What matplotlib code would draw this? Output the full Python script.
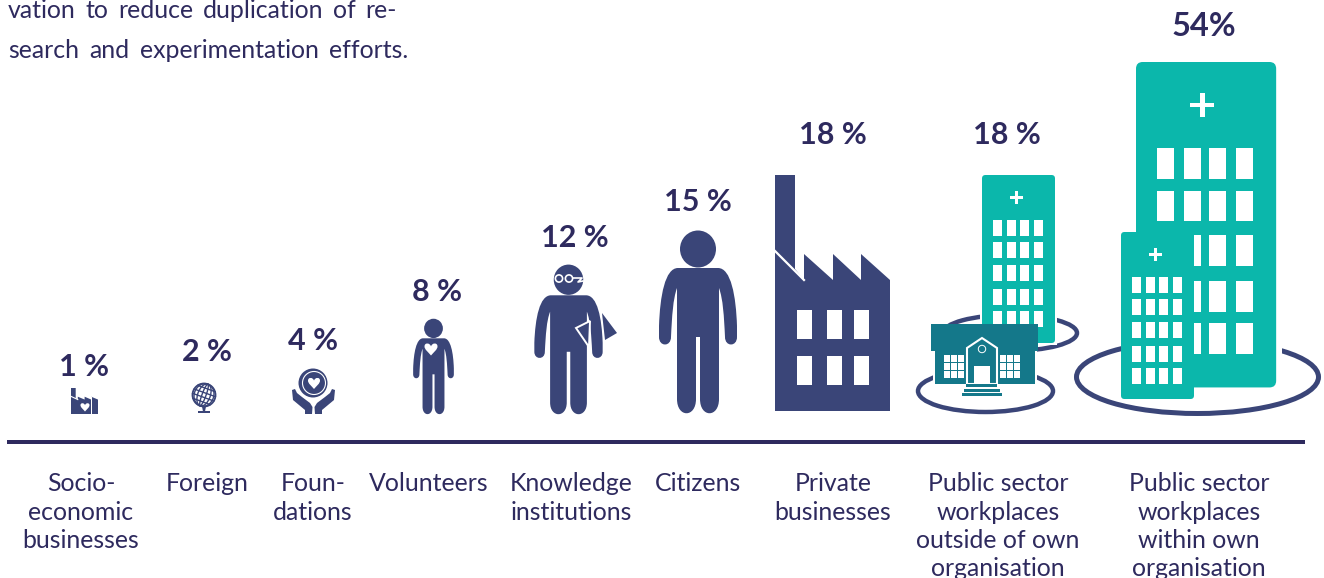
import numpy as np
import matplotlib
matplotlib.use("Agg")
import matplotlib.pyplot as plt
from matplotlib.path import Path
from matplotlib.patches import Circle, Ellipse, FancyBboxPatch, PathPatch, Polygon, Rectangle

categories = [
    ["Socio-", "economic", "businesses"],
    ["Foreign"],
    ["Foun-", "dations"],
    ["Volunteers"],
    ["Knowledge", "institutions"],
    ["Citizens"],
    ["Private", "businesses"],
    ["Public sector", "workplaces", "outside of own", "organisation"],
    ["Public sector", "workplaces", "within own", "organisation"],
]
values = [1, 2, 4, 8, 12, 15, 18, 18, 54]
value_units = [" %", " %", " %", " %", " %", " %", " %", " %", "%"]
intro_lines = ["vation to reduce duplication of re-", "search and experimentation efforts."]

NAVY = "#3A4578"
INK = "#2E2A5E"
TEAL = "#0BB7AB"
DARK_TEAL = "#14788A"

plt.rcParams["font.family"] = ["Lato", "DejaVu Sans"]

fig = plt.figure(figsize=(13.24, 5.78), dpi=100)
ax = fig.add_axes([0, 0, 1, 1])
ax.set_xlim(0, 1324)
ax.set_ylim(578, 0)
ax.axis("off")


def rect(x0, y0, x1, y1, color="white", z=3):
    ax.add_patch(Rectangle((x0, y0), x1 - x0, y1 - y0, fc=color, ec="none", zorder=z))


def heart(cx, cy, size, z=4):
    verts = np.array([
        (0, 0.5), (-0.2, 0.25), (-0.5, 0.05), (-0.5, -0.2),
        (-0.5, -0.5), (-0.1, -0.5), (0, -0.2),
        (0.1, -0.5), (0.5, -0.5), (0.5, -0.2),
        (0.5, 0.05), (0.2, 0.25), (0, 0.5),
    ]) * size + (cx, cy)
    codes = [Path.MOVETO] + [Path.CURVE4] * 12
    ax.add_patch(PathPatch(Path(verts, codes), fc="white", ec="none", zorder=z))


def person(cx, top, bottom, xscale=1.0, color=NAVY):
    # figure drawn at the citizen's size (182 px tall), then scaled
    s = (bottom - top) / 182
    ax.add_patch(Ellipse((cx, top + 18 * s), 36 * s, 37 * s, fc=color, ec="none", zorder=2))
    half = Path(
        [(0, 37), (20, 37), (33, 37), (38, 65), (39, 95), (39, 106), (39, 116), (27, 116),
         (27, 106), (26, 85), (25, 68), (21, 57), (21, 168), (21, 187), (2, 187), (2, 168),
         (2, 106), (0, 106)],
        [Path.MOVETO, Path.LINETO, Path.CURVE4, Path.CURVE4, Path.CURVE4, Path.LINETO,
         Path.CURVE4, Path.CURVE4, Path.CURVE4, Path.CURVE4, Path.CURVE4, Path.CURVE4,
         Path.LINETO, Path.CURVE4, Path.CURVE4, Path.CURVE4, Path.LINETO, Path.LINETO],
    ).to_polygons(closed_only=False)[0]
    other = half[::-1] * (-1, 1)
    pts = np.vstack([half, other]) * (s * xscale, s) + (cx, top)
    ax.add_patch(Polygon(pts, closed=True, fc=color, ec="none", zorder=2))


def factory(x0, y0, x1, y1, windows=True):
    sx = (x1 - x0) / 115
    sy = (y1 - y0) / 236
    pts = np.array([(0, 0), (20, 0), (20, 94), (29, 105), (29, 79), (58, 105), (58, 79),
                    (86, 105), (86, 79), (115, 105), (115, 236), (0, 236)], dtype=float)
    ax.add_patch(Polygon(pts * (sx, sy) + (x0, y0), closed=True, fc=NAVY, ec="none", zorder=2))
    ax.plot([x0, x0 + 29 * sx], [y0 + 76 * sy, y0 + 105 * sy], color="white",
            lw=1.6 * max(sx, 0.5), zorder=3)
    if windows:
        for wx in (22, 52, 79):
            for wy in (135, 181):
                rect(x0 + wx * sx, y0 + wy * sy, x0 + (wx + 15) * sx, y0 + (wy + 29) * sy)


def hospital(x0, y0, s, z=2, height=168):
    # base size 73 x 168 px
    w, h = 73 * s, height * s
    r = 3.5 * s
    ax.add_patch(FancyBboxPatch((x0 + r, y0 + r), w - 2 * r, h - 2 * r,
                                boxstyle=f"round,pad={r},rounding_size={r}",
                                fc=TEAL, ec="none", zorder=z))
    cx, cy = x0 + 34.5 * s, y0 + 22.3 * s
    rect(cx - 6.2 * s, cy - 1.2 * s, cx + 6.2 * s, cy + 1.2 * s, z=z + 1)
    rect(cx - 1.2 * s, cy - 6.2 * s, cx + 1.2 * s, cy + 6.2 * s, z=z + 1)
    for wx in (11, 25, 38, 52):
        for wy in (45, 67, 90, 114, 136):
            rect(x0 + wx * s, y0 + wy * s, x0 + (wx + 9) * s, y0 + (wy + 16) * s, z=z + 1)


def globe(cx, cy, r):
    ax.add_patch(Circle((cx, cy), r, fc="white", ec=NAVY, lw=1.3, zorder=2))
    for w in (0.35, 1.1, 1.7):
        ax.add_patch(Ellipse((cx, cy), r * w, 2 * r, angle=20, fc="none", ec=NAVY, lw=1.0, zorder=3))
    for dy in (-0.6, -0.2, 0.2, 0.6):
        a = np.radians(20)
        half = r * np.sqrt(1 - dy ** 2)
        mx, my = cx - dy * r * np.sin(a), cy + dy * r * np.cos(a)
        ax.plot([mx - half * np.cos(a), mx + half * np.cos(a)],
                [my - half * np.sin(a), my + half * np.sin(a)], color=NAVY, lw=1.0, zorder=3)
    ax.add_patch(Polygon([(cx - 2, cy + r), (cx + 2, cy + r), (cx + 1, cy + r + 5), (cx - 1, cy + r + 5)],
                         fc=NAVY, ec="none", zorder=2))
    rect(cx - 6, cy + r + 4.5, cx + 6, cy + r + 6, color=NAVY)


def hands_and_coin(cx, cy):
    ax.add_patch(Circle((cx, cy), 14.5, fc=NAVY, ec="none", zorder=2))
    ax.add_patch(Circle((cx + 1, cy), 11.5, fc="none", ec="white", lw=0.8, zorder=3))
    heart(cx + 1, cy, 12)
    hand = np.array([(-21, 7), (-20, 17), (-8, 27), (-8, 31), (-1, 31), (-0.5, 24),
                     (-3, 20), (-11, 14), (-16, 10), (-18, 6)], dtype=float)
    ax.add_patch(Polygon(hand + (cx, cy), fc=NAVY, ec="none", zorder=2))
    ax.add_patch(Polygon(hand * (-1, 1) + (cx + 1, cy), fc=NAVY, ec="none", zorder=2))


def school():
    rect(931, 324, 1038, 351, DARK_TEAL, z=4)
    rect(935, 351, 1035, 384, DARK_TEAL, z=4)
    for x0 in (944, 1000):
        rect(x0, 355, x0 + 20, 378, "white", z=5)
        for dx in (6, 13):
            rect(x0 + dx, 355, x0 + dx + 1, 378, DARK_TEAL, z=6)
        for dy in (7, 15):
            rect(x0, 355 + dy, x0 + 20, 355 + dy + 1, DARK_TEAL, z=6)
    ax.add_patch(Polygon([(967, 384), (967, 348), (982, 338), (997, 348), (997, 384)],
                         fc=DARK_TEAL, ec="white", lw=1.5, zorder=5))
    rect(974, 366, 990, 384, "white", z=6)
    ax.add_patch(Circle((982, 349), 3.7, fc=DARK_TEAL, ec="white", lw=0.7, zorder=6))
    rect(966, 384, 997, 387, DARK_TEAL, z=7)
    rect(964, 389, 1000, 392, DARK_TEAL, z=7)
    rect(962, 393, 1002, 396, DARK_TEAL, z=7)


def justified(line, x0, x1, baseline, size, weight):
    words = line.split()
    items = [ax.text(0, baseline, w, fontsize=size, color=INK, weight=weight, va="baseline") for w in words]
    renderer = fig.canvas.get_renderer()
    inv = ax.transData.inverted()
    widths = []
    for t in items:
        bb = t.get_window_extent(renderer)
        widths.append(inv.transform((bb.x1, 0))[0] - inv.transform((bb.x0, 0))[0])
    gap = (x1 - x0 - sum(widths)) / (len(words) - 1)
    x = x0
    for t, w in zip(items, widths):
        t.set_x(x)
        x += w + gap


# rings sit behind the buildings
ax.add_patch(Ellipse((1197.5, 377), 242, 73, fc="none", ec=NAVY, lw=3.6, zorder=1))
rect(1136, 62, 1282, 385, "white", z=1.5)
ax.add_patch(Ellipse((1010, 333), 134, 36, fc="none", ec=NAVY, lw=3.2, zorder=1))
rect(980, 175, 1057, 345, "white", z=1.5)
ax.add_patch(Ellipse((985.5, 391), 135, 42, fc="none", ec=NAVY, lw=3.2, zorder=1))
rect(933, 340, 1037, 384, "white", z=1.5)

factory(71, 388, 98, 414, windows=False)
rect(77.5, 397, 78.1, 414, z=3)
rect(91, 397, 91.6, 414, z=3)
heart(85, 407, 9)
globe(204, 395, 11.5)
hands_and_coin(313, 383)

person(433.5, 319, 414)
heart(431, 349, 13)

person(568.5, 265, 414, xscale=1.07)
for gx in (559, 569):
    ax.add_patch(Circle((gx, 278.5), 3.6, fc=NAVY, ec="white", lw=1.2, zorder=3))
ax.plot([573, 582, 578, 583], [278, 278, 282, 281], color="white", lw=1.2, zorder=3)
ax.add_patch(Polygon([(576, 328), (590, 321), (589, 347)], fc=NAVY, ec="white", lw=1.4, zorder=3))
ax.add_patch(Polygon([(602, 313), (617, 333), (605, 340)], fc=NAVY, ec="none", zorder=2))

person(698, 231, 413)
factory(775, 175, 890, 411)

hospital(982, 175, 1)
school()
hospital(1136, 62, 1.92, height=169.5)
hospital(1121, 232, 1, z=4, height=167)

rect(7, 440.3, 1305, 443.8, INK, z=2)

value_x = [84, 207, 313, 437, 575, 698, 833, 1007, 1204]
value_y = [376, 361, 350, 301, 247, 211, 144, 144, 36]
value_size = [22, 22, 22, 22, 22, 22, 22, 22, 23.5]
for x, y, v, unit, size in zip(value_x, value_y, values, value_units, value_size):
    ax.text(x, y, f"{v}{unit}", ha="center", va="baseline", fontsize=size, weight="bold", color=INK)

label_x = [81, 207, 313, 429, 571, 698, 833, 998, 1199]
for x, lines in zip(label_x, categories):
    for i, line in enumerate(lines):
        ax.text(x, 491 + i * 28.5, line, ha="center", va="baseline", fontsize=17.9, color=INK)

justified(intro_lines[0], 8, 397, 18, 17.9, "normal")
justified(intro_lines[1], 8, 408, 58, 17.9, "normal")

fig.savefig("out.png", dpi=100)
